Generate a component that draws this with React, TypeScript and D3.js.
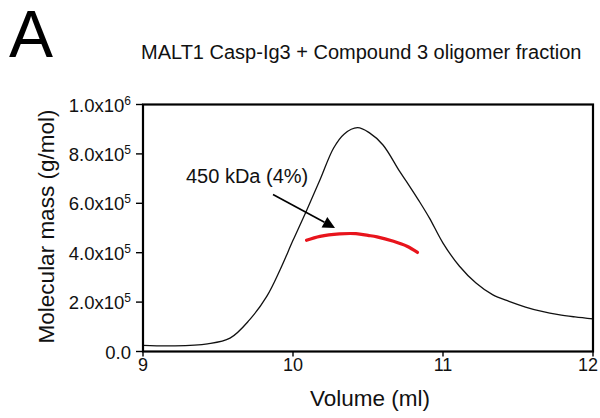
import React from "react";
import * as d3 from "d3";

const traceVolume = [9.0, 9.2, 9.43, 9.58, 9.71, 9.825, 9.914, 10.0, 10.09, 10.18, 10.27, 10.34, 10.43, 10.51, 10.6, 10.71, 10.77, 10.84, 10.91, 11.0, 11.11, 11.22, 11.33, 11.44, 11.55, 11.66, 11.77, 11.88, 12.0];
const traceMass = [2.5e4, 2.3e4, 3.1e4, 5.4e4, 1.28e5, 2.23e5, 3.31e5, 4.5e5, 5.7e5, 6.95e5, 8.23e5, 8.8e5, 9.06e5, 8.85e5, 8.36e5, 7.3e5, 6.76e5, 6.1e5, 5.4e5, 4.39e5, 3.45e5, 2.77e5, 2.3e5, 2.03e5, 1.8e5, 1.62e5, 1.49e5, 1.4e5, 1.32e5];

const mwVolume = [10.09, 10.18, 10.31, 10.42, 10.5, 10.56, 10.67, 10.76, 10.83];
const mwMass = [4.5e5, 4.66e5, 4.76e5, 4.77e5, 4.7e5, 4.64e5, 4.46e5, 4.26e5, 4.01e5];

const xTicks = [9, 10, 11, 12];
const yTicks = [0, 2e5, 4e5, 6e5, 8e5, 1e6];
const yTickMantissa = ["0.0", "2.0x10", "4.0x10", "6.0x10", "8.0x10", "1.0x10"];
const yTickExponent = ["", "5", "5", "5", "5", "6"];

const panelLetter = "A";
const title = "MALT1 Casp-Ig3 + Compound 3 oligomer fraction";
const annotation = "450 kDa (4%)";
const xLabel = "Volume (ml)";
const yLabel = "Molecular mass (g/mol)";

const FONT = "'Liberation Sans', Arial, Helvetica, sans-serif";

export default function App() {
  const left = 143, right = 593, top = 104.5, bottom = 351.5;
  const x = d3.scaleLinear().domain([9, 12]).range([left, right]);
  const y = d3.scaleLinear().domain([0, 1e6]).range([bottom, top]);

  const line = d3
    .line<number>()
    .x((_, i) => x(traceVolume[i]))
    .y((d) => y(d))
    .curve(d3.curveCatmullRom.alpha(0.5));
  const mwLine = d3
    .line<number>()
    .x((_, i) => x(mwVolume[i]))
    .y((d) => y(d))
    .curve(d3.curveCatmullRom.alpha(0.5));

  const ax1 = 273, ay1 = 194.5, ax2 = 335, ay2 = 228;
  const ang = Math.atan2(ay2 - ay1, ax2 - ax1);
  const hl = 12, hw = 6;
  const bx = ax2 - hl * Math.cos(ang), by = ay2 - hl * Math.sin(ang);
  const head = [
    [ax2, ay2],
    [bx + hw * Math.sin(ang), by - hw * Math.cos(ang)],
    [bx - hw * Math.sin(ang), by + hw * Math.cos(ang)],
  ];

  return (
    <svg
      width={600}
      height={418}
      style={{ position: "absolute", left: 0, top: 0, background: "#fff" }}
      fontFamily={FONT}
    >
      <rect x={0} y={0} width={600} height={418} fill="#fff" />
      <text x={9} y={57} fontSize={66} fill="#000">{panelLetter}</text>
      <text x={141} y={59} fontSize={20} fill="#111">{title}</text>

      <path d={line(traceMass) || ""} fill="none" stroke="#111" strokeWidth={1.3} />
      <path d={mwLine(mwMass) || ""} fill="none" stroke="#e8141c" strokeWidth={3.2} strokeLinecap="round" />

      <rect x={left} y={top} width={right - left} height={bottom - top} fill="none" stroke="#000" strokeWidth={2.2} />

      {yTicks.map((t, i) => (
        <g key={"y" + i}>
          <line x1={left - 7} x2={left} y1={y(t)} y2={y(t)} stroke="#000" strokeWidth={1.4} />
          <text x={131} y={y(t) + 7} fontSize={18.5} textAnchor="end" fill="#111">
            {yTickMantissa[i]}
            {yTickExponent[i] ? (
              <tspan fontSize={12} dy={-7}>{yTickExponent[i]}</tspan>
            ) : null}
          </text>
        </g>
      ))}
      {xTicks.map((t, i) => {
        const last = i === xTicks.length - 1;
        return (
          <g key={"x" + i}>
            <line x1={x(t)} x2={x(t)} y1={bottom} y2={bottom + 5} stroke="#000" strokeWidth={1.4} />
            <text
              x={last ? 598 : x(t)}
              y={371}
              fontSize={18}
              textAnchor={last ? "end" : "middle"}
              fill="#111"
            >
              {t}
            </text>
          </g>
        );
      })}

      <text x={370} y={406} fontSize={22.5} textAnchor="middle" fill="#111">{xLabel}</text>
      <text transform={`translate(53.5,226.5) rotate(-90)`} fontSize={22.5} textAnchor="middle" fill="#111">
        {yLabel}
      </text>

      <text x={186} y={183} fontSize={20} fill="#111">{annotation}</text>
      <line x1={ax1} y1={ay1} x2={bx} y2={by} stroke="#000" strokeWidth={1.6} />
      <polygon points={head.map((p) => p.join(",")).join(" ")} fill="#000" />
    </svg>
  );
}
